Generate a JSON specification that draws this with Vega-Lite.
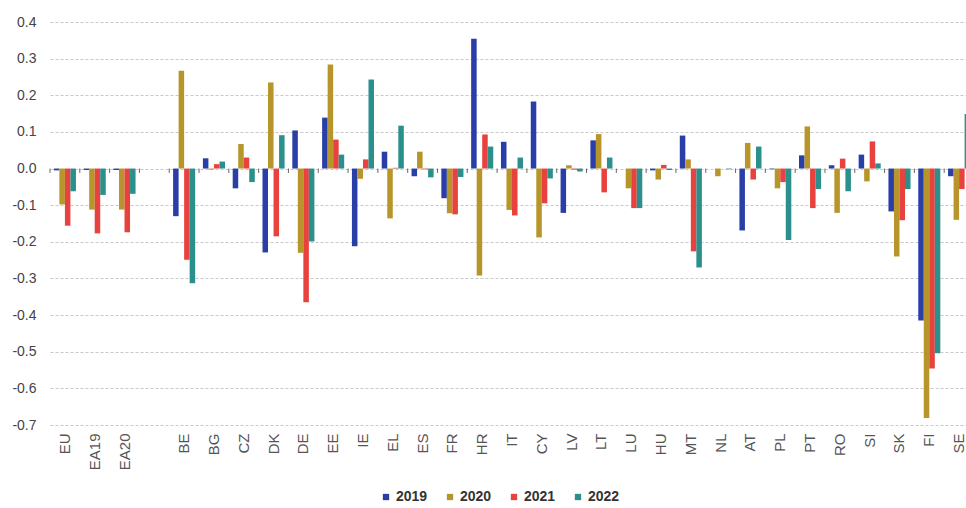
{
  "$schema": "https://vega.github.io/schema/vega-lite/v6.json",
  "autosize": {"type": "none"},
  "padding": {"left": 50, "top": 22, "right": 0, "bottom": 83},
  "width": 916,
  "height": 403,
  "config": {
    "view": {"stroke": null},
    "font": "Liberation Sans"
  },
  "datasets": {
    "vals": [
      {"c":"EU","y":"2019","v":-0.005},{"c":"EU","y":"2020","v":-0.098},{"c":"EU","y":"2021","v":-0.156},{"c":"EU","y":"2022","v":-0.062},
      {"c":"EA19","y":"2019","v":-0.004},{"c":"EA19","y":"2020","v":-0.112},{"c":"EA19","y":"2021","v":-0.177},{"c":"EA19","y":"2022","v":-0.072},
      {"c":"EA20","y":"2019","v":-0.004},{"c":"EA20","y":"2020","v":-0.112},{"c":"EA20","y":"2021","v":-0.174},{"c":"EA20","y":"2022","v":-0.069},
      {"c":"BE","y":"2019","v":-0.130},{"c":"BE","y":"2020","v":0.267},{"c":"BE","y":"2021","v":-0.249},{"c":"BE","y":"2022","v":-0.313},
      {"c":"BG","y":"2019","v":0.028},{"c":"BG","y":"2020","v":-0.003},{"c":"BG","y":"2021","v":0.012},{"c":"BG","y":"2022","v":0.019},
      {"c":"CZ","y":"2019","v":-0.054},{"c":"CZ","y":"2020","v":0.067},{"c":"CZ","y":"2021","v":0.030},{"c":"CZ","y":"2022","v":-0.037},
      {"c":"DK","y":"2019","v":-0.229},{"c":"DK","y":"2020","v":0.235},{"c":"DK","y":"2021","v":-0.185},{"c":"DK","y":"2022","v":0.091},
      {"c":"DE","y":"2019","v":0.104},{"c":"DE","y":"2020","v":-0.230},{"c":"DE","y":"2021","v":-0.365},{"c":"DE","y":"2022","v":-0.199},
      {"c":"EE","y":"2019","v":0.139},{"c":"EE","y":"2020","v":0.284},{"c":"EE","y":"2021","v":0.079},{"c":"EE","y":"2022","v":0.038},
      {"c":"IE","y":"2019","v":-0.212},{"c":"IE","y":"2020","v":-0.028},{"c":"IE","y":"2021","v":0.025},{"c":"IE","y":"2022","v":0.243},
      {"c":"EL","y":"2019","v":0.046},{"c":"EL","y":"2020","v":-0.136},{"c":"EL","y":"2021","v":0.002},{"c":"EL","y":"2022","v":0.117},
      {"c":"ES","y":"2019","v":-0.021},{"c":"ES","y":"2020","v":0.046},{"c":"ES","y":"2021","v":-0.002},{"c":"ES","y":"2022","v":-0.024},
      {"c":"FR","y":"2019","v":-0.081},{"c":"FR","y":"2020","v":-0.122},{"c":"FR","y":"2021","v":-0.125},{"c":"FR","y":"2022","v":-0.023},
      {"c":"HR","y":"2019","v":0.354},{"c":"HR","y":"2020","v":-0.292},{"c":"HR","y":"2021","v":0.093},{"c":"HR","y":"2022","v":0.060},
      {"c":"IT","y":"2019","v":0.073},{"c":"IT","y":"2020","v":-0.113},{"c":"IT","y":"2021","v":-0.128},{"c":"IT","y":"2022","v":0.030},
      {"c":"CY","y":"2019","v":0.183},{"c":"CY","y":"2020","v":-0.188},{"c":"CY","y":"2021","v":-0.095},{"c":"CY","y":"2022","v":-0.027},
      {"c":"LV","y":"2019","v":-0.121},{"c":"LV","y":"2020","v":0.009},{"c":"LV","y":"2021","v":-0.003},{"c":"LV","y":"2022","v":-0.008},
      {"c":"LT","y":"2019","v":0.077},{"c":"LT","y":"2020","v":0.094},{"c":"LT","y":"2021","v":-0.065},{"c":"LT","y":"2022","v":0.030},
      {"c":"LU","y":"2019","v":0.000},{"c":"LU","y":"2020","v":-0.054},{"c":"LU","y":"2021","v":-0.108},{"c":"LU","y":"2022","v":-0.108},
      {"c":"HU","y":"2019","v":-0.005},{"c":"HU","y":"2020","v":-0.030},{"c":"HU","y":"2021","v":0.010},{"c":"HU","y":"2022","v":-0.004},
      {"c":"MT","y":"2019","v":0.090},{"c":"MT","y":"2020","v":0.025},{"c":"MT","y":"2021","v":-0.226},{"c":"MT","y":"2022","v":-0.270},
      {"c":"NL","y":"2019","v":0.000},{"c":"NL","y":"2020","v":-0.021},{"c":"NL","y":"2021","v":0.000},{"c":"NL","y":"2022","v":-0.002},
      {"c":"AT","y":"2019","v":-0.169},{"c":"AT","y":"2020","v":0.070},{"c":"AT","y":"2021","v":-0.030},{"c":"AT","y":"2022","v":0.060},
      {"c":"PL","y":"2019","v":-0.002},{"c":"PL","y":"2020","v":-0.054},{"c":"PL","y":"2021","v":-0.037},{"c":"PL","y":"2022","v":-0.195},
      {"c":"PT","y":"2019","v":0.036},{"c":"PT","y":"2020","v":0.115},{"c":"PT","y":"2021","v":-0.108},{"c":"PT","y":"2022","v":-0.056},
      {"c":"RO","y":"2019","v":0.009},{"c":"RO","y":"2020","v":-0.121},{"c":"RO","y":"2021","v":0.027},{"c":"RO","y":"2022","v":-0.062},
      {"c":"SI","y":"2019","v":0.038},{"c":"SI","y":"2020","v":-0.035},{"c":"SI","y":"2021","v":0.074},{"c":"SI","y":"2022","v":0.014},
      {"c":"SK","y":"2019","v":-0.117},{"c":"SK","y":"2020","v":-0.240},{"c":"SK","y":"2021","v":-0.141},{"c":"SK","y":"2022","v":-0.056},
      {"c":"FI","y":"2019","v":-0.415},{"c":"FI","y":"2020","v":-0.681},{"c":"FI","y":"2021","v":-0.546},{"c":"FI","y":"2022","v":-0.504},
      {"c":"SE","y":"2019","v":-0.021},{"c":"SE","y":"2020","v":-0.140},{"c":"SE","y":"2021","v":-0.056},{"c":"SE","y":"2022","v":0.149}
    ],
    "cats": [
      {"c":"EU"},{"c":"EA19"},{"c":"EA20"},{"c":" "},{"c":"BE"},{"c":"BG"},{"c":"CZ"},{"c":"DK"},{"c":"DE"},{"c":"EE"},{"c":"IE"},{"c":"EL"},{"c":"ES"},{"c":"FR"},{"c":"HR"},{"c":"IT"},{"c":"CY"},{"c":"LV"},{"c":"LT"},{"c":"LU"},{"c":"HU"},{"c":"MT"},{"c":"NL"},{"c":"AT"},{"c":"PL"},{"c":"PT"},{"c":"RO"},{"c":"SI"},{"c":"SK"},{"c":"FI"},{"c":"SE"}
    ]
  },
  "layer": [
    {
      "data": {"name": "vals"},
      "mark": {"type": "bar"},
      "encoding": {
        "x": {
          "field": "c", "type": "nominal",
          "scale": {
            "domain": ["EU","EA19","EA20"," ","BE","BG","CZ","DK","DE","EE","IE","EL","ES","FR","HR","IT","CY","LV","LT","LU","HU","MT","NL","AT","PL","PT","RO","SI","SK","FI","SE"],
            "paddingInner": 0, "paddingOuter": 0,
            "range": [0, 924]
          },
          "axis": {
            "title": null, "labelAngle": -90, "labelFontSize": 15, "labelColor": "#555555",
            "labelPadding": 8, "ticks": false, "domain": false, "grid": false, "labelOverlap": false
          }
        },
        "xOffset": {
          "field": "y", "type": "nominal",
          "scale": {"paddingInner": 0, "paddingOuter": 0.7}
        },
        "y": {
          "field": "v", "type": "quantitative",
          "scale": {"domain": [-0.7, 0.4], "nice": false, "zero": false},
          "axis": {
            "title": null, "values": [-0.7,-0.6,-0.5,-0.4,-0.3,-0.2,-0.1,0,0.1,0.2,0.3,0.4],
            "tickCount": 24,
            "labelExpr": "datum.value < 0 ? '-' + format(abs(datum.value), '.1f') : format(datum.value, '.1f')",
            "labelFontSize": 14, "labelColor": "#444444", "labelPadding": 14,
            "labelOverlap": false, "labelFlush": false,
            "ticks": false, "domain": false,
            "gridColor": "#c8c8c8", "gridDash": [3, 2], "gridWidth": 1
          }
        },
        "color": {
          "field": "y", "type": "nominal",
          "scale": {"domain": ["2019","2020","2021","2022"], "range": ["#2a3ea8","#b8952a","#e8423f","#2b8f8b"]},
          "legend": {
            "title": null, "orient": "none", "direction": "horizontal",
            "legendX": 329, "legendY": 468,
            "symbolType": "square", "symbolSize": 40, "symbolStrokeWidth": 0,
            "labelFontSize": 14, "labelFontWeight": "bold", "labelColor": "#333333",
            "columnPadding": 15, "labelOffset": 3
          }
        }
      }
    },
    {
      "mark": {"type": "rule", "color": "#000000", "strokeWidth": 1.2},
      "encoding": {"y": {"datum": 0}}
    },
    {
      "data": {"name": "cats"},
      "mark": {"type": "rule", "color": "#666666", "strokeWidth": 1},
      "encoding": {
        "x": {"field": "c", "type": "nominal", "bandPosition": 0},
        "y": {"datum": 0},
        "y2": {"datum": -0.012}
      }
    }
  ]
}
